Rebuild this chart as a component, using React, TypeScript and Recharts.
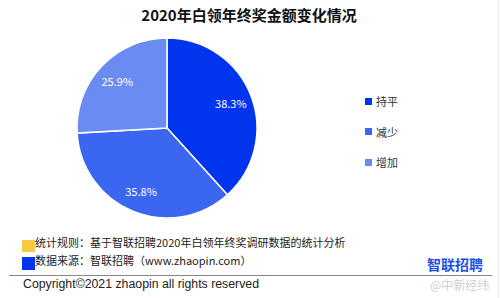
import React from "react";
import { PieChart, Pie, Cell, Legend } from "recharts";

const categories = ["持平", "减少", "增加"];
const values = [38.3, 35.8, 25.9];
const colors = ["#0035EE", "#3A66F0", "#6A8CF2"];
const title = "2020年白领年终奖金额变化情况";
const note1 = "统计规则：基于智联招聘2020年白领年终奖调研数据的统计分析";
const note2 = "数据来源：智联招聘（www.zhaopin.com）";
const copyright = "Copyright©2021 zhaopin all rights reserved";
const logo = "智联招聘";
const watermark = "@中新经纬";

const data = categories.map((name, i) => ({ name, value: values[i] }));

const FONT = "'Noto Sans CJK SC', 'Noto Sans', sans-serif";
const RAD = Math.PI / 180;

const renderLabel = (props: any) => {
  const { cx, cy, midAngle, outerRadius, index } = props;
  const r = outerRadius * 0.76;
  const x = cx + r * Math.cos(-midAngle * RAD);
  const y = cy + r * Math.sin(-midAngle * RAD);
  return (
    <text
      x={x}
      y={y}
      fill="#ffffff"
      textAnchor="middle"
      dominantBaseline="central"
      fontSize={11}
      fontFamily={FONT}
    >
      {values[index].toFixed(1)}%
    </text>
  );
};

const renderLegend = (props: any) => {
  const payload = [...(props.payload || [])].sort(
    (a: any, b: any) => categories.indexOf(a.value) - categories.indexOf(b.value)
  );
  return (
    <div style={{ fontFamily: FONT, fontSize: 11, color: "#333" }}>
      {payload.map((p: any, i: number) => (
        <div
          key={i}
          style={{ display: "flex", alignItems: "center", height: 30.5 }}
        >
          <span
            style={{
              display: "inline-block",
              width: 7,
              height: 7,
              background: p.color,
              marginRight: 4,
            }}
          />
          <span>{p.value}</span>
        </div>
      ))}
    </div>
  );
};

export default function App() {
  return (
    <div
      style={{
        position: "absolute",
        left: 0,
        top: 0,
        width: 500,
        height: 298,
        background: "#fff",
        fontFamily: FONT,
        overflow: "hidden",
      }}
    >
      <div
        style={{
          position: "absolute",
          left: 0,
          top: 4,
          width: 498,
          textAlign: "center",
          fontSize: 15,
          fontWeight: 700,
          color: "#111",
          lineHeight: "22px",
        }}
      >
        {title}
      </div>
      <div style={{ position: "absolute", left: 0, top: 0 }}>
        <PieChart width={500} height={240} margin={{ top: 0, right: 0, bottom: 0, left: 0 }}>
          <Pie
            data={data}
            dataKey="value"
            nameKey="name"
            cx={167}
            cy={128}
            outerRadius={90}
            startAngle={90}
            endAngle={-270}
            stroke="#ffffff"
            strokeWidth={1.5}
            label={renderLabel}
            labelLine={false}
            isAnimationActive={false}
          >
            {data.map((d, i) => (
              <Cell key={d.name} fill={colors[i]} />
            ))}
          </Pie>
          <Legend
            layout="vertical"
            content={renderLegend}
            wrapperStyle={{ left: 365, top: 86, width: 80 }}
          />
        </PieChart>
      </div>
      <div style={{ position: "absolute", left: 22, top: 240, width: 13, height: 12, background: "#F6C945" }} />
      <div style={{ position: "absolute", left: 22, top: 257, width: 13, height: 13, background: "#0035EE" }} />
      <div style={{ position: "absolute", left: 35, top: 234, fontSize: 11, color: "#222", lineHeight: "16px", whiteSpace: "nowrap" }}>
        {note1}
      </div>
      <div style={{ position: "absolute", left: 35, top: 252, fontSize: 11, color: "#222", lineHeight: "16px", whiteSpace: "nowrap" }}>
        {note2}
      </div>
      <div style={{ position: "absolute", left: 427, top: 254, fontSize: 14, fontWeight: 700, color: "#1E4FE6", lineHeight: "20px", whiteSpace: "nowrap" }}>
        {logo}
      </div>
      <div style={{ position: "absolute", left: 9, top: 275, width: 483, height: 1, background: "#888" }} />
      <div style={{ position: "absolute", left: 23, top: 276, fontSize: 12.3, color: "#222", lineHeight: "17px", whiteSpace: "nowrap", fontFamily: "'Liberation Sans', Arial, sans-serif" }}>
        {copyright}
      </div>
      <div style={{ position: "absolute", left: 430, top: 277, fontSize: 12, color: "#d0d0d0", lineHeight: "16px", whiteSpace: "nowrap" }}>
        {watermark}
      </div>
      <div style={{ position: "absolute", right: 1, top: 0, width: 1, height: 298, background: "#eee" }} />
    </div>
  );
}
